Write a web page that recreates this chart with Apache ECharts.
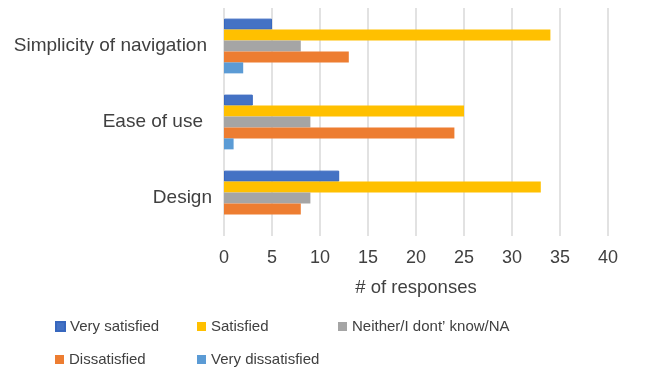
<!DOCTYPE html>
<html>
<head>
<meta charset="utf-8">
<script src="https://cdn.jsdelivr.net/npm/echarts@6/dist/echarts.min.js"></script>
<style>
  html, body { margin: 0; padding: 0; background: #ffffff; }
  #chart { width: 652px; height: 371px; }
</style>
</head>
<body>
<div id="chart"></div>
<script>
// Survey aspects (top to bottom)
var categories = ['Simplicity of navigation', 'Ease of use', 'Design'];

// Response counts per aspect, same order as categories
var verySatisfied    = [5, 3, 12];
var satisfied        = [34, 25, 33];
var neither          = [8, 9, 9];
var dissatisfied     = [13, 24, 8];
var veryDissatisfied = [2, 1, 0];

var seriesNames = ['Very satisfied', 'Satisfied', 'Neither/I dont\u2019 know/NA', 'Dissatisfied', 'Very dissatisfied'];
var seriesValues = [verySatisfied, satisfied, neither, dissatisfied, veryDissatisfied];
var seriesColors = ['#4472C4', '#FFC000', '#A5A5A5', '#ED7D31', '#5B9BD5'];
var seriesBorders = ['#3767BE', '#FFC000', '#A5A5A5', '#ED7D31', '#5B9BD5'];

// per-label offsets: [top, right]
var labelPad = [[3, 9], [5, 13], [0, 4]];

var FONT = '"Liberation Sans", Arial, Helvetica, sans-serif';
var TEXT = '#404040';

var chart = echarts.init(document.getElementById('chart'), null, { renderer: 'canvas' });

var legendPos = [
  { left: 55, top: 319 },
  { left: 197, top: 319 },
  { left: 338, top: 319 },
  { left: 55, top: 352 },
  { left: 197, top: 352 }
];

var legends = seriesNames.map(function (name, i) {
  return {
    data: [name],
    left: legendPos[i].left,
    top: legendPos[i].top,
    orient: 'horizontal',
    icon: 'rect',
    itemWidth: 9,
    itemHeight: 9,
    padding: 0,
    selectedMode: false,
    textStyle: { fontFamily: FONT, fontSize: 15, color: TEXT }
  };
});

var series = seriesNames.map(function (name, i) {
  return {
    name: name,
    type: 'bar',
    data: seriesValues[i],
    barGap: '0%',
    barCategoryGap: '28%',
    itemStyle: {
      color: seriesColors[i],
      borderColor: seriesBorders[i],
      borderWidth: i === 0 ? 1 : 0
    },
    emphasis: { disabled: true }
  };
});

chart.setOption({
  animation: false,
  backgroundColor: '#ffffff',
  grid: { left: 224, right: 44, top: 8, bottom: 135, containLabel: false },
  legend: legends,
  xAxis: {
    type: 'value',
    min: 0,
    max: 40,
    interval: 5,
    name: '# of responses',
    nameLocation: 'middle',
    nameGap: 42,
    nameTextStyle: { fontFamily: FONT, fontSize: 18.5, color: TEXT },
    axisLine: { show: false },
    axisTick: { show: false },
    axisLabel: { fontFamily: FONT, fontSize: 18, color: TEXT, margin: 13 },
    splitLine: { show: true, lineStyle: { color: '#D9D9D9', width: 1.5 } }
  },
  yAxis: {
    type: 'category',
    inverse: true,
    data: categories.map(function (c, i) {
      return { value: c, textStyle: { padding: [labelPad[i][0], labelPad[i][1], 0, 0] } };
    }),
    axisLine: { show: false },
    axisTick: { show: false },
    axisLabel: { fontFamily: FONT, fontSize: 19, color: TEXT, margin: 8 },
    splitLine: { show: false }
  },
  series: series
});
</script>
</body>
</html>
